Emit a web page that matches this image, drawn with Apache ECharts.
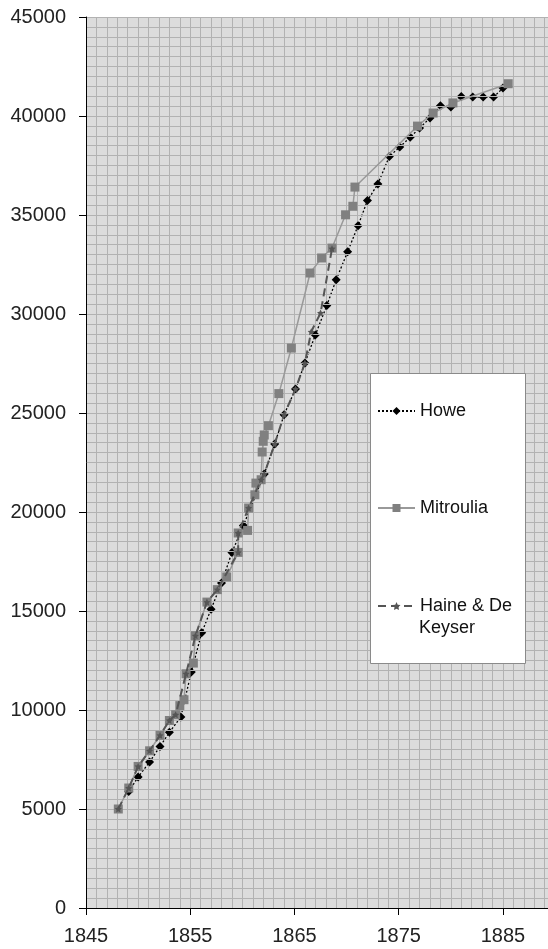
<!DOCTYPE html>
<html>
<head>
<meta charset="utf-8">
<script src="https://cdn.jsdelivr.net/npm/echarts@6/dist/echarts.min.js"></script>
<style>html,body{margin:0;padding:0;background:#fff;}#c{width:548px;height:949px;}</style>
</head>
<body>
<div id="c"></div>
<script>
// ---- data (year, population) ----
const howeYears = [1849.1,1850.0,1851.1,1852.1,1853.0,1854.1,1855.1,1856.1,1857.0,1858.0,1859.0,1860.1,1862.1,1863.1,1864.0,1865.1,1866.0,1867.0,1868.1,1869.0,1870.1,1871.1,1872.0,1873.0,1874.1,1875.1,1876.1,1877.0,1878.0,1879.0,1880.0,1881.0,1882.1,1883.1,1884.1,1885.0];
const howeValues = [5880,6620,7370,8160,8870,9650,11920,13900,15090,16410,17960,19320,21920,23430,24910,26210,27520,28940,30430,31730,33150,34460,35730,36570,37960,38430,38930,39390,39900,40520,40450,40990,40960,40960,40960,41410];

const mitrouliaYears = [1848.1,1849.1,1850.0,1851.1,1852.1,1853.0,1853.6,1854.0,1854.4,1854.6,1855.3,1855.5,1856.6,1857.6,1858.5,1859.6,1859.6,1860.5,1860.6,1861.2,1861.3,1861.8,1861.9,1862.0,1862.1,1862.5,1863.5,1864.7,1866.5,1867.6,1868.6,1869.9,1870.6,1870.8,1876.8,1878.3,1880.2,1885.5];
const mitrouliaValues = [5000,6060,7150,7940,8720,9470,9760,10220,10520,11830,12370,13750,15450,16080,16720,17960,18940,19070,20200,20870,21460,21630,23030,23570,23890,24360,25980,28280,32070,32830,33330,35010,35440,36410,39490,40150,40660,41630];

const haineYears = [1848.1,1849.1,1850.0,1851.1,1852.1,1853.0,1853.6,1854.6,1855.5,1856.6,1857.6,1859.6,1859.6,1860.6,1861.8,1862.1,1863.1,1864.0,1865.1,1866.0,1866.6,1867.5,1868.6];
const haineValues = [5000,6060,7150,7940,8720,9470,9760,11830,13750,15450,16080,17960,18940,20200,21630,21920,23430,24910,26210,27520,29100,30050,33300];

const xTicks = [1845,1855,1865,1875,1885];
const yTicks = [0,5000,10000,15000,20000,25000,30000,35000,40000,45000];

const zip = (a,b) => a.map((v,i)=>[v,b[i]]);
const starPath = 'path://M0,-10 L2.9,-4 L9.5,-3.1 L4.8,1.5 L5.9,8.1 L0,5 L-5.9,8.1 L-4.8,1.5 L-9.5,-3.1 L-2.9,-4Z';
const gridCol = '#b2b2b2';
const font = 'Liberation Sans, Arial, sans-serif';
const xMin = 1845, xMax = 1889.32;

const chart = echarts.init(document.getElementById('c'));
const legendBase = {
  orient:'vertical', itemWidth:37, itemHeight:10, itemGap:0, z:10, padding:0,
  textStyle:{fontFamily:font, fontSize:18, color:'#111'},
  selectedMode:false
};
chart.setOption({
  animation:false,
  backgroundColor:'#ffffff',
  grid:{left:86, top:17, bottom:41, right:0, show:true, backgroundColor:'#dcdcdc', borderWidth:0},
  xAxis:[{
    type:'value', min:xMin, max:xMax, interval:10, z:3,
    axisLine:{show:true, lineStyle:{color:'#000', width:1}},
    axisTick:{show:true, length:7, lineStyle:{color:'#000'}},
    axisLabel:{fontFamily:font, fontSize:20, color:'#222', margin:18, showMaxLabel:false,
      formatter:v => xTicks.includes(v) ? String(v) : ''},
    splitLine:{show:false}
  },{
    type:'value', min:xMin, max:xMax, interval:1, z:1,
    axisLine:{show:false}, axisTick:{show:false}, axisLabel:{show:false},
    splitLine:{show:true, lineStyle:{color:gridCol, width:1}}
  }],
  yAxis:{
    type:'value', min:0, max:45000, interval:5000, z:3,
    axisLine:{show:true, lineStyle:{color:'#000', width:1}},
    axisTick:{show:true, length:7, lineStyle:{color:'#000'}},
    axisLabel:{fontFamily:font, fontSize:20, color:'#222', margin:20,
      formatter:v => yTicks.includes(v) ? String(v) : ''},
    splitLine:{show:true, lineStyle:{color:gridCol, width:1}},
    minorTick:{show:false, splitNumber:10},
    minorSplitLine:{show:true, lineStyle:{color:gridCol, width:1}}
  },
  legend:[
    Object.assign({}, legendBase, {data:['Howe'], left:377, top:402}),
    Object.assign({}, legendBase, {data:['Mitroulia'], left:377, top:499}),
    Object.assign({}, legendBase, {data:['Haine & De Keyser'], left:377, top:597, formatter:()=> 'Haine & De'})
  ],
  graphic:[
    {type:'rect', z:5, shape:{x:370.5, y:373.5, width:155, height:290}, style:{fill:'#fff', stroke:'#8a8a8a', lineWidth:1}},
    {type:'text', z:11, left:419, top:619, style:{text:'Keyser', font:'18px Liberation Sans, Arial, sans-serif', fill:'#111'}}
  ],
  series:[
    {name:'Howe', type:'line', data:zip(howeYears,howeValues), symbol:'diamond', symbolSize:9,
      itemStyle:{color:'#000'}, lineStyle:{color:'#000', width:1.3, type:[2,2]}, z:2},
    {name:'Mitroulia', type:'line', data:zip(mitrouliaYears,mitrouliaValues), symbol:'rect', symbolSize:9,
      itemStyle:{color:'#808080'}, lineStyle:{color:'#999999', width:1.5}, z:3},
    {name:'Haine & De Keyser', type:'line', data:zip(haineYears,haineValues), symbol:starPath, symbolSize:7,
      itemStyle:{color:'#555'}, lineStyle:{color:'#555', width:2, type:[8,5]}, z:4}
  ]
});
</script>
</body>
</html>
